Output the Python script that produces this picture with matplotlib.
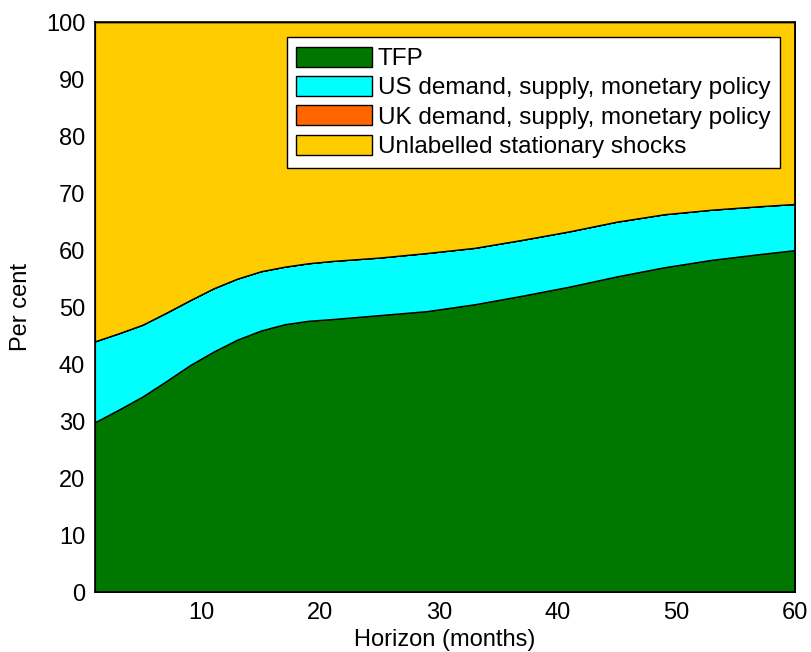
import matplotlib.pyplot as plt
import numpy as np

plt.rcParams['font.family'] = ['Liberation Sans', 'DejaVu Sans']

# forecast error variance shares by horizon (per cent)
horizon = [1, 3, 5, 7, 9, 11, 13, 15, 17, 19, 21, 25, 29, 33, 37, 41, 45, 49, 53, 57, 60]
tfp = [29.8, 32.0, 34.3, 37.0, 39.8, 42.2, 44.3, 45.9, 47.0, 47.6, 47.9,
       48.6, 49.3, 50.5, 52.0, 53.6, 55.4, 57.0, 58.3, 59.3, 60.0]
us = [14.2, 13.4, 12.6, 12.0, 11.4, 11.1, 10.7, 10.4, 10.1, 10.1, 10.2,
      10.1, 10.2, 9.9, 9.8, 9.7, 9.6, 9.3, 8.8, 8.4, 8.1]
uk = [0.0] * len(horizon)
unlabelled = [100 - a - b - c for a, b, c in zip(tfp, us, uk)]

labels = ['TFP', 'US demand, supply, monetary policy',
          'UK demand, supply, monetary policy', 'Unlabelled stationary shocks']
colors = ['#007800', '#00ffff', '#ff6600', '#ffcc00']

fig = plt.figure(figsize=(8.11, 6.52), dpi=100)
ax = fig.add_axes([0.117, 0.092, 0.863, 0.874])

ax.stackplot(horizon, tfp, us, uk, unlabelled, colors=colors,
             labels=labels, edgecolor='black', linewidth=1.0)

ax.set_xlim(1, 60)
ax.set_ylim(0, 100)
ax.set_xticks([10, 20, 30, 40, 50, 60])
ax.set_yticks(np.arange(0, 101, 10))
ax.tick_params(length=0, labelsize=17, pad=7)
for s in ax.spines.values():
    s.set_linewidth(1.2)

ax.set_xlabel('Horizon (months)', fontsize=17, labelpad=4)
ax.set_ylabel('Per cent', fontsize=17, labelpad=10)

leg = ax.legend(loc='upper right', bbox_to_anchor=(0.979, 0.974),
                prop={'size': 17.5}, fancybox=False, framealpha=1,
                edgecolor='black', handlelength=3.1, handleheight=0.9,
                handletextpad=0.25, labelspacing=0.24, borderpad=0.4,
                borderaxespad=0)
leg.get_frame().set_linewidth(1.0)

fig.savefig('out.png', dpi=100)
